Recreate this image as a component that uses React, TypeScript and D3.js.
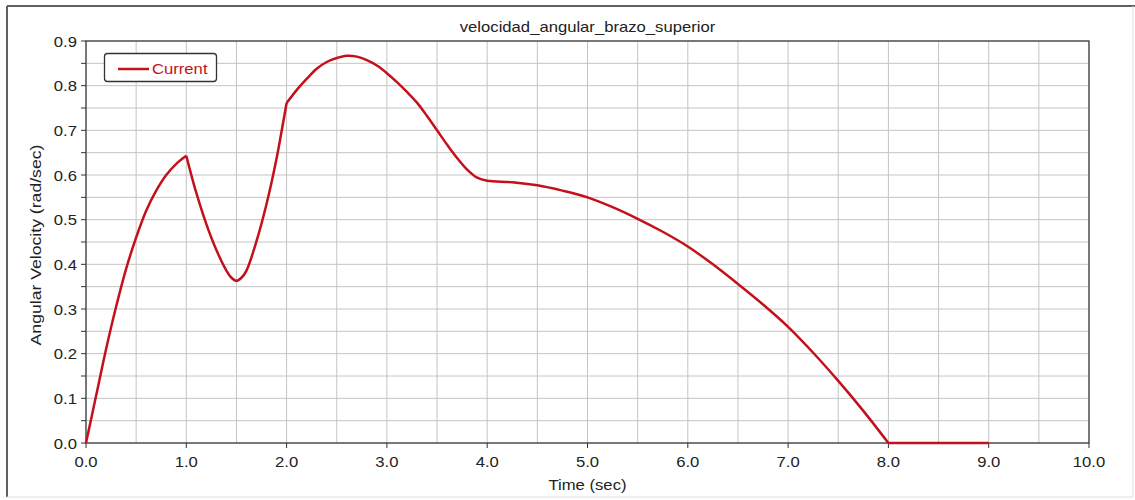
import React from "react";
import * as d3 from "d3";

const TITLE = "velocidad_angular_brazo_superior";
const X_LABEL = "Time (sec)";
const Y_LABEL = "Angular Velocity (rad/sec)";
const SERIES_NAME = "Current";

const timeValues = [
  0, 0.1, 0.2, 0.3, 0.4, 0.5, 0.6, 0.7, 0.8, 0.9, 1.0,
  1.05, 1.1, 1.2, 1.3, 1.4, 1.45, 1.5, 1.55, 1.6, 1.7, 1.8, 1.9, 1.95, 2.0,
  2.1, 2.2, 2.3, 2.4, 2.5, 2.6, 2.7, 2.8, 2.9, 3.0, 3.1, 3.2, 3.3, 3.4, 3.5,
  3.6, 3.7, 3.8, 3.9, 4.0, 4.25, 4.5, 4.75, 5.0, 5.25, 5.5, 5.75, 6.0, 6.25,
  6.5, 6.75, 7.0, 7.25, 7.5, 7.75, 8.0, 9.0,
];
const velocityValues = [
  0, 0.105, 0.21, 0.305, 0.39, 0.46, 0.52, 0.565, 0.6, 0.625, 0.643,
  0.6, 0.56, 0.49, 0.432, 0.386, 0.37, 0.363, 0.37, 0.386, 0.452, 0.535, 0.637, 0.698, 0.761,
  0.79, 0.815, 0.838, 0.853, 0.862, 0.867, 0.865, 0.857, 0.845, 0.828, 0.808, 0.786, 0.762, 0.732, 0.7,
  0.668, 0.638, 0.612, 0.594, 0.587, 0.584, 0.577, 0.565, 0.55, 0.528, 0.502, 0.473, 0.44, 0.4,
  0.356, 0.31, 0.26, 0.202, 0.139, 0.072, 0, 0,
];
// times where the curve has a corner
const breakTimes = [1.0, 2.0, 8.0];

const xTicks = [0, 1, 2, 3, 4, 5, 6, 7, 8, 9, 10];
const yTicks = [0, 0.1, 0.2, 0.3, 0.4, 0.5, 0.6, 0.7, 0.8, 0.9];

const W = 1135;
const H = 500;
const M = { left: 86, right: 1089, top: 41, bottom: 443 };
const FONT = "Liberation Sans, Arial, sans-serif";
const RED = "#c4101a";
const FS = 14;
const SX = 1.19;

function T(props: {
  x: number;
  y: number;
  anchor?: "start" | "middle" | "end";
  rotate?: number;
  sx?: number;
  fill?: string;
  fs?: number;
  children: React.ReactNode;
}) {
  const { x, y, anchor = "start", rotate = 0, sx = SX, fill = "#222", fs = FS } = props;
  return (
    <text
      transform={`translate(${x},${y}) rotate(${rotate}) scale(${sx},1)`}
      textAnchor={anchor}
      fontSize={fs}
      fill={fill}
    >
      {props.children}
    </text>
  );
}

export default function App() {
  const x = d3.scaleLinear().domain([0, 10]).range([M.left, M.right]);
  const y = d3.scaleLinear().domain([0, 0.9]).range([M.bottom, M.top]);

  const pts = timeValues.map((t, i) => ({ t, v: velocityValues[i] }));
  const bounds = [0, ...breakTimes, 9.0];
  const segments: { t: number; v: number }[][] = [];
  for (let i = 0; i < bounds.length - 1; i++) {
    segments.push(pts.filter((p) => p.t >= bounds[i] - 1e-9 && p.t <= bounds[i + 1] + 1e-9));
  }
  const line = d3
    .line<{ t: number; v: number }>()
    .x((d) => x(d.t))
    .y((d) => y(d.v))
    .curve(d3.curveCatmullRom.alpha(0.5));
  const pathD = segments.map((s) => line(s)).join("");

  const vGrid = d3.range(0, 10.01, 0.5);
  const hGrid = d3.range(0, 0.901, 0.05);

  return (
    <svg
      width={W}
      height={H}
      style={{ position: "absolute", left: 0, top: 0, display: "block" }}
      fontFamily={FONT}
    >
      <rect x={0} y={0} width={W} height={H} fill="#fff" />
      {/* outer frame */}
      <line x1={7} y1={6} x2={W} y2={6} stroke="#606060" strokeWidth={2} />
      <line x1={7} y1={6} x2={7} y2={497} stroke="#606060" strokeWidth={2} />
      <line x1={7} y1={497} x2={1133} y2={497} stroke="#e0e0e0" strokeWidth={1} />
      <line x1={1133} y1={6} x2={1133} y2={497} stroke="#e0e0e0" strokeWidth={1} />

      {/* grid */}
      {vGrid.map((t) => (
        <line key={"vg" + t} x1={x(t)} x2={x(t)} y1={M.top} y2={M.bottom} stroke="#c4c4c4" strokeWidth={1} />
      ))}
      {hGrid.map((v) => (
        <line key={"hg" + v} x1={M.left} x2={M.right} y1={y(v)} y2={y(v)} stroke="#c4c4c4" strokeWidth={1} />
      ))}

      {/* plot border */}
      <rect
        x={M.left}
        y={M.top}
        width={M.right - M.left}
        height={M.bottom - M.top}
        fill="none"
        stroke="#333"
        strokeWidth={1.2}
      />

      {/* y ticks */}
      {hGrid.map((v) => (
        <line key={"yt" + v} x1={M.left - 5} x2={M.left} y1={y(v)} y2={y(v)} stroke="#333" strokeWidth={1} />
      ))}
      {yTicks.map((v) => (
        <T key={"yl" + v} x={M.left - 9} y={y(v) + 5.5} anchor="end">
          {v.toFixed(1)}
        </T>
      ))}

      {/* x ticks */}
      {xTicks.map((t) => (
        <g key={"xt" + t}>
          <line x1={x(t)} x2={x(t)} y1={M.bottom} y2={M.bottom + 5} stroke="#333" strokeWidth={1} />
          <T x={x(t)} y={467} anchor="middle">
            {t.toFixed(1)}
          </T>
        </g>
      ))}

      {/* titles */}
      <T x={(M.left + M.right) / 2} y={32} anchor="middle">
        {TITLE}
      </T>
      <T x={(M.left + M.right) / 2} y={490} anchor="middle">
        {X_LABEL}
      </T>
      <T x={41} y={245} anchor="middle" rotate={-90} sx={1.26}>
        {Y_LABEL}
      </T>

      {/* data */}
      <path d={pathD} fill="none" stroke={RED} strokeWidth={2.5} strokeLinejoin="round" />

      {/* legend */}
      <rect x={104.5} y={53.5} width={112} height={28} rx={3} fill="#fff" stroke="#333" strokeWidth={1.3} />
      <line x1={118} x2={149} y1={69} y2={69} stroke={RED} strokeWidth={2.5} />
      <T x={152} y={74} fill={RED}>
        {SERIES_NAME}
      </T>
    </svg>
  );
}
